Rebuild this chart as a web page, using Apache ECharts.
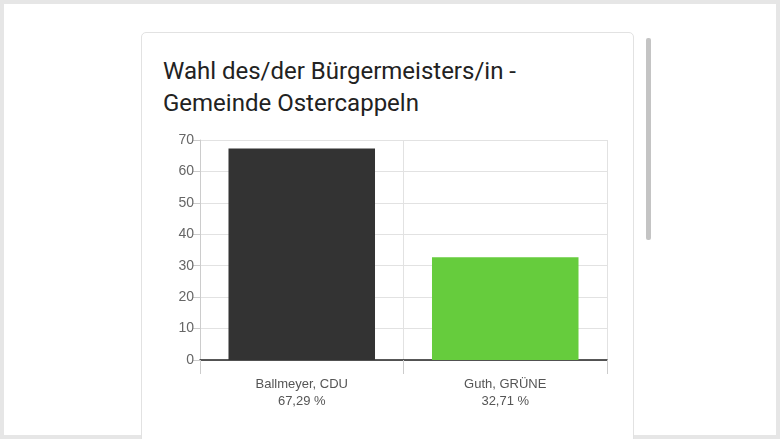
<!DOCTYPE html><html><head><meta charset="utf-8">
<script src="https://cdn.jsdelivr.net/npm/echarts@6/dist/echarts.min.js"></script>
<style>
html,body{margin:0;padding:0;width:780px;height:439px;overflow:hidden;background:#fff;font-family:Roboto,"Liberation Sans",sans-serif}
#frame{position:absolute;left:0;top:0;width:772px;height:431px;border:4px solid #e6e6e6}
#card{position:absolute;left:141px;top:32px;width:491px;height:420px;border:1px solid #e2e2e2;border-radius:5px;background:#fff}
#sb{position:absolute;left:646px;top:38px;width:5px;height:202px;background:#c4c4c4;border-radius:2px}
#title{position:absolute;left:163px;top:55px;font-size:24px;line-height:32px;color:#222}
#c{position:absolute;left:0;top:0;width:780px;height:439px}
</style></head><body>
<div id="frame"></div><div id="card"></div><div id="sb"></div>
<div id="title">Wahl des/der Bürgermeisters/in -<br>Gemeinde Ostercappeln</div>
<div id="c"></div>
<script>
const categories=["Ballmeyer, CDU\n67,29 %","Guth, GRÜNE\n32,71 %"];
const values=[67.29,32.71];
const colors=["#333333","#66cc3d"];
const chart=echarts.init(document.getElementById('c'));
chart.setOption({
 animation:false,
 grid:{left:200,right:173,top:140,bottom:79},
 xAxis:{type:'category',data:categories,
  axisLine:{lineStyle:{color:'#222',width:1.5}},
  axisTick:{show:true,length:14,lineStyle:{color:'#ccc'}},
  splitLine:{show:true,lineStyle:{color:'#e2e2e2'}},
  axisLabel:{color:'#555',fontSize:13,lineHeight:17,margin:16}},
 yAxis:{type:'value',min:0,max:70,interval:10,
  axisLine:{show:true,lineStyle:{color:'#ccc'}},
  axisTick:{show:true,length:7,lineStyle:{color:'#ccc'}},
  splitLine:{lineStyle:{color:'#e2e2e2'}},
  axisLabel:{color:'#666',fontSize:14,margin:6}},
 series:[{type:'bar',barWidth:'72%',data:values.map((v,i)=>({value:v,itemStyle:{color:colors[i]}}))}]
});
</script></body></html>
